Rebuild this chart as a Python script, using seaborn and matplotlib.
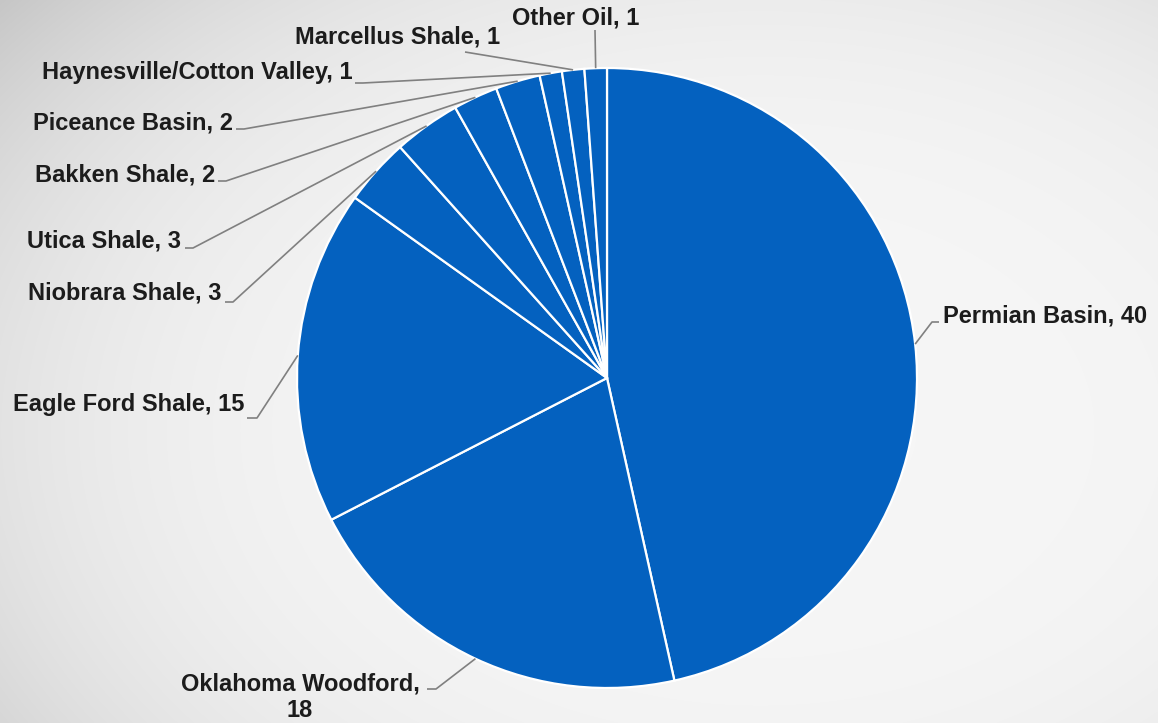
import numpy as np
import matplotlib
matplotlib.use("Agg")
import matplotlib.pyplot as plt
import seaborn as sns

# Rig counts by basin
basins = ["Permian Basin", "Oklahoma Woodford", "Eagle Ford Shale", "Niobrara Shale",
          "Utica Shale", "Bakken Shale", "Piceance Basin", "Haynesville/Cotton Valley",
          "Marcellus Shale", "Other Oil"]
counts = [40, 18, 15, 3, 3, 2, 2, 1, 1, 1]

sns.set_theme(style="white")
plt.rcParams["font.family"] = ["Liberation Sans", "DejaVu Sans"]

W, H = 1158, 723
fig = plt.figure(figsize=(W / 100, H / 100), dpi=100)

# Soft grey backdrop, lighter toward the middle-right
bg = fig.add_axes([0, 0, 1, 1])
yy, xx = np.mgrid[0:H, 0:W]
d = np.sqrt(((xx - 760) / 820.0) ** 2 + ((yy - 430) / 560.0) ** 2)
shade = 0.965 - 0.098 * d ** 3.5
shade = np.clip(shade, 0.72, 1.0)
bg.imshow(np.dstack([shade] * 3), extent=(0, W, 0, H), origin="upper", aspect="auto")
bg.set_axis_off()

ax = fig.add_axes([0, 0, 1, 1])
ax.set_axis_off()
ax.patch.set_alpha(0)


def py(y):
    return H - y


cx, cy, R = 607, py(378), 310
blue = "#0461BF"
wedges, _ = ax.pie(counts, center=(cx, cy), radius=R, startangle=90, counterclock=False,
                   colors=[blue] * len(counts),
                   wedgeprops=dict(edgecolor="white", linewidth=1.6))
ax.set_xlim(0, W)
ax.set_ylim(0, H)
ax.set_aspect("equal")

# label placement: text anchor, alignment, leader stub points
layout = {
    "Permian Basin": ((943, 316), "left", [(939, 322), (932, 322)]),
    "Oklahoma Woodford": ((300, 697), "center", [(427, 689), (436, 689)]),
    "Eagle Ford Shale": ((244, 404), "right", [(247, 418), (257, 418)]),
    "Niobrara Shale": ((222, 293), "right", [(225, 302), (233, 302)]),
    "Utica Shale": ((181, 241), "right", [(185, 248), (193, 248)]),
    "Bakken Shale": ((215, 175), "right", [(218, 181), (226, 181)]),
    "Piceance Basin": ((233, 123), "right", [(236, 129), (244, 129)]),
    "Haynesville/Cotton Valley": ((353, 73), "right", [(355, 83), (363, 83)]),
    "Marcellus Shale": ((500, 37), "right", [(465, 52)]),
    "Other Oil": ((576, 18), "center", [(595, 30)]),
}

for w, name, val in zip(wedges, basins, counts):
    mid = np.deg2rad((w.theta1 + w.theta2) / 2)
    ex, ey = cx + R * np.cos(mid), cy + R * np.sin(mid)
    (tx, ty), ha, stub = layout[name]
    label = f"{name},\n{val}" if name == "Oklahoma Woodford" else f"{name}, {val}"
    ax.text(tx, py(ty), label, ha=ha, va="center", fontsize=17, fontweight="bold",
            color="#1c1c1c", multialignment="center", linespacing=1.2)
    xs = [p[0] for p in stub] + [ex]
    ys = [py(p[1]) for p in stub] + [ey]
    ax.plot(xs, ys, color="#808080", linewidth=1.2, solid_capstyle="butt")

fig.savefig("out.png", dpi=100)
